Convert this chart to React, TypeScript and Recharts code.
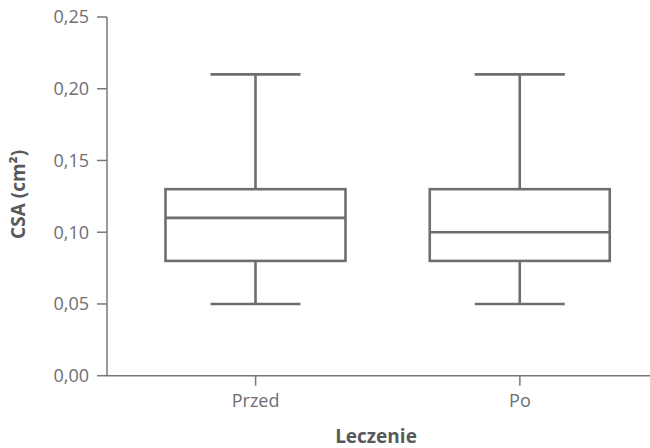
import React from 'react';
import { ComposedChart, Bar, XAxis, YAxis } from 'recharts';

const categories = ['Przed', 'Po'];
const minValues = [0.05, 0.05];
const q1Values = [0.08, 0.08];
const medianValues = [0.11, 0.10];
const q3Values = [0.13, 0.13];
const maxValues = [0.21, 0.21];
const yTicks = [0, 0.05, 0.1, 0.15, 0.2, 0.25];

const data = categories.map((c, i) => ({
  name: c,
  range: [minValues[i], maxValues[i]],
  min: minValues[i],
  q1: q1Values[i],
  median: medianValues[i],
  q3: q3Values[i],
  max: maxValues[i],
}));

const STROKE = '#6d6e71';
const AXIS = '#77787b';
const FONT = '"Open Sans", sans-serif';

const BoxShape = (props: any) => {
  const { x, y, width, height, payload } = props;
  const { min, q1, median, q3, max } = payload;
  const py = (v: number) => y + ((max - v) / (max - min)) * height;
  const cx = x + width / 2;
  const capHalf = width / 4;
  const sw = 2.6;
  return (
    <g>
      <line x1={cx} x2={cx} y1={py(max)} y2={py(q3)} stroke={STROKE} strokeWidth={sw} />
      <line x1={cx} x2={cx} y1={py(q1)} y2={py(min)} stroke={STROKE} strokeWidth={sw} />
      <line x1={cx - capHalf} x2={cx + capHalf} y1={py(max)} y2={py(max)} stroke={STROKE} strokeWidth={sw} />
      <line x1={cx - capHalf} x2={cx + capHalf} y1={py(min)} y2={py(min)} stroke={STROKE} strokeWidth={sw} />
      <rect x={x} y={py(q3)} width={width} height={py(q1) - py(q3)} fill="#fff" stroke={STROKE} strokeWidth={sw} />
      <line x1={x} x2={x + width} y1={py(median)} y2={py(median)} stroke={STROKE} strokeWidth={sw} />
    </g>
  );
};

const fmt = (v: number) => v.toFixed(2).replace('.', ',');

const YLabel = (props: any) => {
  const vb = props.viewBox;
  const cx = 18;
  const cy = vb.y + vb.height / 2 - 2;
  return (
    <text
      x={cx}
      y={cy}
      transform={`rotate(-90 ${cx} ${cy})`}
      textAnchor="middle"
      dominantBaseline="central"
      fontFamily={FONT}
      fontWeight={700}
      fontSize={19}
      fill="#58595b"
    >
      CSA (cm²)
    </text>
  );
};

const XLabel = (props: any) => {
  const vb = props.viewBox;
  const cx = vb.x + vb.width / 2 - 2.5;
  return (
    <text
      x={cx}
      y={443}
      textAnchor="middle"
      fontFamily={FONT}
      fontWeight={700}
      fontSize={19}
      fill="#58595b"
    >
      Leczenie
    </text>
  );
};

export default function App() {
  return (
    <div style={{ position: 'fixed', left: 0, top: 0, width: 650, height: 448, background: '#fff' }}>
      <ComposedChart
        width={650}
        height={448}
        data={data}
        margin={{ top: 17, right: 0, bottom: 0, left: 0 }}
      >
        <XAxis
          dataKey="name"
          height={72.3}
          padding={{ left: 16.5, right: -2 }}
          axisLine={{ stroke: AXIS, strokeWidth: 1.5 }}
          tickLine={{ stroke: AXIS, strokeWidth: 1.5 }}
          tickSize={10}
          tickMargin={9}
          tick={{ fill: STROKE, fontSize: 18, fontFamily: FONT }}
          label={<XLabel />}
        />
        <YAxis
          width={107}
          domain={[0, 0.25]}
          ticks={yTicks}
          tickFormatter={fmt}
          axisLine={{ stroke: AXIS, strokeWidth: 1.5 }}
          tickLine={{ stroke: AXIS, strokeWidth: 1.5 }}
          tickSize={10}
          tickMargin={8}
          tick={{ fill: STROKE, fontSize: 18, fontFamily: FONT }}
          label={<YLabel />}
        />
        <Bar dataKey="range" barSize={180} shape={<BoxShape />} isAnimationActive={false} />
      </ComposedChart>
    </div>
  );
}
